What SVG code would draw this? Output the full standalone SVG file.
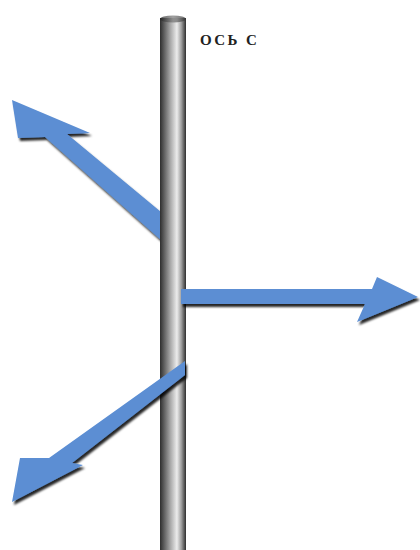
<svg xmlns="http://www.w3.org/2000/svg" width="420" height="550" viewBox="0 0 420 550">
  <defs>
    <linearGradient id="rodGrad" x1="0" y1="0" x2="1" y2="0">
      <stop offset="0" stop-color="#2e2e2e"/>
      <stop offset="0.15" stop-color="#5c5c5c"/>
      <stop offset="0.4" stop-color="#a8a8a8"/>
      <stop offset="0.65" stop-color="#ececec"/>
      <stop offset="0.82" stop-color="#a0a0a0"/>
      <stop offset="1" stop-color="#2e2e2e"/>
    </linearGradient>
    <linearGradient id="capGrad" x1="0" y1="0" x2="1" y2="0">
      <stop offset="0" stop-color="#222"/>
      <stop offset="0.5" stop-color="#777"/>
      <stop offset="1" stop-color="#333"/>
    </linearGradient>
    <filter id="shadow" x="-10%" y="-10%" width="130%" height="130%">
      <feGaussianBlur in="SourceAlpha" stdDeviation="1.3" result="b"/>
      <feOffset in="b" dx="1.5" dy="2.5" result="o"/>
      <feFlood flood-color="#000" flood-opacity="0.85"/>
      <feComposite in2="o" operator="in" result="s"/>
      <feMerge>
        <feMergeNode in="s"/>
        <feMergeNode in="SourceGraphic"/>
      </feMerge>
    </filter>
    <style>
      .arrow { fill: #5b8ed3; filter: url(#shadow); }
      .label { font-family: "Liberation Serif", "Times New Roman", serif; font-weight: bold; font-size: 15px; letter-spacing: 2.4px; fill: #222; }
    </style>
  </defs>

  <g id="connectors">
    <g id="arrow-upper-left">
      <polygon class="arrow" points="12,100 90,133 67,134 161,212 161,240 45,137 18,138"/>
    </g>
  </g>

  <g id="rod">
    <rect x="160" y="18" width="26" height="540" fill="url(#rodGrad)"/>
    <ellipse cx="173" cy="19" rx="13" ry="3.5" fill="url(#capGrad)" opacity="0.7"/>
  </g>

  <g id="connectors-front">
    <g id="arrow-right">
      <polygon class="arrow" points="181,289 372,289 377,277 418,297 357,322 365,304 181,304"/>
    </g>
    <g id="arrow-lower-left">
      <polygon class="arrow" points="185,361 185,375 72,463 83,465 12,502 20,458 49,458"/>
    </g>
  </g>

  <g id="label-axis">
    <text class="label" x="200" y="45">ОСЬ С</text>
  </g>
</svg>
